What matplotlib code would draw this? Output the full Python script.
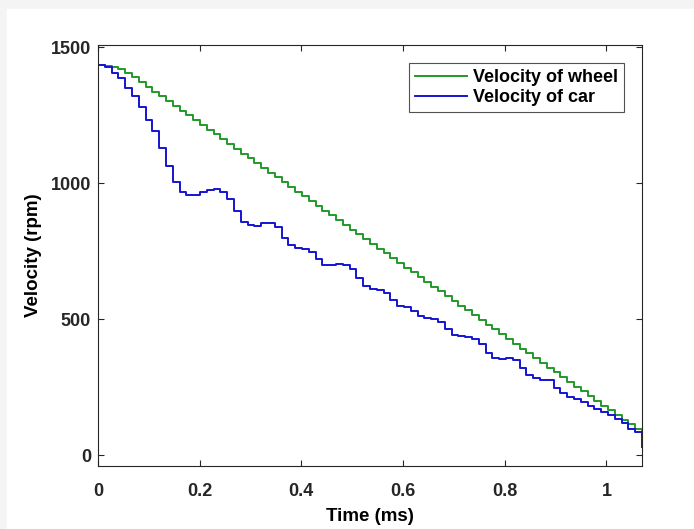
import numpy as np
import matplotlib
matplotlib.use("Agg")
import matplotlib.pyplot as plt
from matplotlib.patches import Rectangle

plt.rcParams['font.family'] = ['Liberation Sans', 'DejaVu Sans']
plt.rcParams['font.weight'] = 'bold'

# sample times (ms), one sample every 0.013375 ms, plus the closing sample at the end
time_ms = np.append(np.arange(81) * 0.013375, 1.07)

# velocity of the wheel (rpm)
wheel_rpm = [1434, 1432, 1427, 1418, 1406, 1392, 1372, 1354, 1336, 1319,
             1301, 1284, 1266, 1249, 1231, 1214, 1196, 1179, 1161, 1144,
             1126, 1109, 1091, 1074, 1056, 1039, 1021, 1004, 987, 969,
             952, 934, 917, 899, 882, 864, 847, 829, 812, 794,
             777, 759, 742, 724, 707, 689, 672, 654, 637, 619,
             602, 584, 567, 550, 532, 515, 497, 480, 462, 445,
             427, 410, 392, 375, 357, 340, 322, 305, 287, 270,
             252, 235, 217, 200, 182, 165, 148, 130, 113, 95,
             78, 70]

# velocity of the car (rpm)
car_rpm = [1434, 1428, 1405, 1385, 1350, 1322, 1280, 1232, 1190, 1130,
           1062, 1003, 966, 958, 955, 966, 976, 980, 966, 940,
           896, 858, 846, 843, 852, 855, 840, 800, 772, 760,
           757, 748, 720, 700, 698, 704, 700, 686, 650, 622,
           610, 607, 596, 570, 550, 545, 530, 512, 505, 502,
           488, 465, 442, 438, 435, 428, 408, 375, 356, 353,
           356, 348, 322, 293, 282, 278, 275, 248, 228, 214,
           205, 195, 182, 170, 160, 146, 133, 118, 96, 86,
           74, 30]

x_ticks = [0, 0.2, 0.4, 0.6, 0.8, 1]
x_tick_labels = ['0', '0.2', '0.4', '0.6', '0.8', '1']
y_ticks = [0, 500, 1000, 1500]

fig = plt.figure(figsize=(6.94, 5.29), dpi=100, facecolor='#f4f4f4')
# white page area, leaving the thin grey strip of the scan on the left and top
fig.patches.append(Rectangle((7 / 694, 0), 1, (529 - 9) / 529,
                             transform=fig.transFigure, color='white', zorder=-1))

ax = fig.add_axes([98 / 694, (529 - 466) / 529, 544 / 694, 421 / 529])
ax.step(time_ms, wheel_rpm, where='post', color='#22992a', lw=1.4, label='Velocity of wheel')
ax.step(time_ms, car_rpm, where='post', color='#1414d2', lw=1.4, label='Velocity of car')

ax.set_xlim(0, 1.07)
ax.set_ylim(-40, 1508)
ax.set_xticks(x_ticks)
ax.set_xticklabels(x_tick_labels)
ax.set_yticks(y_ticks)
ax.tick_params(direction='in', length=4, width=0.8, colors='#262626',
               top=True, right=True, labelsize=13)
ax.tick_params(axis='x', pad=12)
ax.tick_params(axis='y', pad=5)
for s in ax.spines.values():
    s.set_color('#262626')
    s.set_linewidth(0.8)

ax.set_xlabel('Time (ms)', fontsize=13.5, fontweight='bold', labelpad=6)
ax.set_ylabel('Velocity (rpm)', fontsize=13.5, fontweight='bold', labelpad=6)

leg = ax.legend(loc='upper right', bbox_to_anchor=(0.967, 0.957), borderaxespad=0,
                fancybox=False, frameon=True, fontsize=13, handlelength=2.9,
                handletextpad=0.3, labelspacing=0.15, borderpad=0.35)
leg.get_frame().set_edgecolor('#262626')
leg.get_frame().set_linewidth(0.8)

fig.savefig('out.png', dpi=100, facecolor=fig.get_facecolor())
